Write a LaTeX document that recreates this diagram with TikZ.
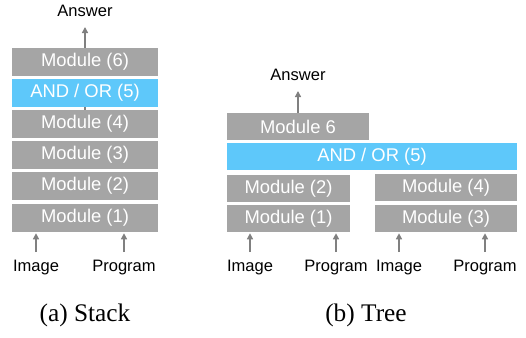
\documentclass[tikz,border=0pt]{standalone}
\usepackage{fontspec}
\setmainfont{Liberation Sans}
\newfontfamily\capfont{Liberation Serif}
\usetikzlibrary{arrows.meta}
\definecolor{modgray}{RGB}{165,165,165}
\definecolor{logicblue}{RGB}{94,200,250}
\definecolor{wiregray}{RGB}{128,128,128}
\tikzset{
    modbox/.style={fill=modgray,text=white,inner sep=0pt,minimum height=21pt,font=\fontsize{13.8}{16}\selectfont},
    logicbox/.style={modbox,fill=logicblue},
    iolabel/.style={inner sep=0pt,font=\fontsize{12.4}{14}\selectfont},
    wire/.style={wiregray,line width=1pt,-{Triangle[width=4.5pt,length=4.5pt]}},
}
\begin{document}
\begin{tikzpicture}[x=0.75pt,y=-0.75pt]
        \useasboundingbox (0,0) rectangle (526,337);

        % (a) Stack
        \node[modbox,minimum width=109.5pt] (s6) at (85,62) {Module (6)};
        \node[logicbox,minimum width=109.5pt] (s5) at (85,93) {AND / OR (5)};
        \node[modbox,minimum width=109.5pt] (s4) at (85,124) {Module (4)};
        \node[modbox,minimum width=109.5pt] (s3) at (85,155) {Module (3)};
        \node[modbox,minimum width=109.5pt] (s2) at (85,186) {Module (2)};
        \node[modbox,minimum width=109.5pt] (s1) at (85,218) {Module (1)};

        \node[iolabel] (sAns) at (85,11) {Answer};
        \node[iolabel] (sImg) at (36,268) {Image};
        \node[iolabel] (sProg) at (124,268) {Program};

        \draw[wiregray,line width=1pt] (s4.north) -- (s5.south);
        \draw[wire,shorten >=12pt] (s6.north) -- (sAns.center);
        \draw[wire,shorten <=12pt,shorten >=0.75pt] (sImg.center) -- (sImg |- s1.south);
        \draw[wire,shorten <=12pt,shorten >=0.75pt] (sProg.center) -- (sProg |- s1.south);

        % (b) Tree
        \node[modbox,minimum width=106.5pt,minimum height=20.25pt] (t6) at (298,126.5) {Module 6};
        \node[logicbox,minimum width=217.5pt,minimum height=20.25pt] (t5) at (372,156.5) {AND / OR (5)};
        \node[modbox,minimum width=92.25pt,minimum height=20.25pt] (t2) at (288.5,188.5) {Module (2)};
        \node[modbox,minimum width=106.5pt,minimum height=20.25pt] (t4) at (446,187.5) {Module (4)};
        \node[modbox,minimum width=92.25pt,minimum height=20.25pt] (t1) at (288.5,218.5) {Module (1)};
        \node[modbox,minimum width=106.5pt,minimum height=20.25pt] (t3) at (446,218.5) {Module (3)};

        \node[iolabel] (tAns) at (298,75) {Answer};
        \node[iolabel] (tImgA) at (250,268) {Image};
        \node[iolabel] (tProgA) at (336,268) {Program};
        \node[iolabel] (tImgB) at (399,268) {Image};
        \node[iolabel] (tProgB) at (485,268) {Program};

        \draw[wire,shorten >=12pt] (t6.north) -- (tAns.center);
        \foreach \lbl/\tgt in {tImgA/t1,tProgA/t1,tImgB/t3,tProgB/t3} {
            \draw[wire,shorten <=12pt,shorten >=0.75pt] (\lbl.center) -- (\lbl |- \tgt.south);
        }

        % captions
        \node[font=\capfont\fontsize{19}{22}\selectfont] (capA) at (85,315) {(a) Stack};
        \node[font=\capfont\fontsize{19}{22}\selectfont] (capB) at (366,315) {(b) Tree};
    \end{tikzpicture}
\end{document}
